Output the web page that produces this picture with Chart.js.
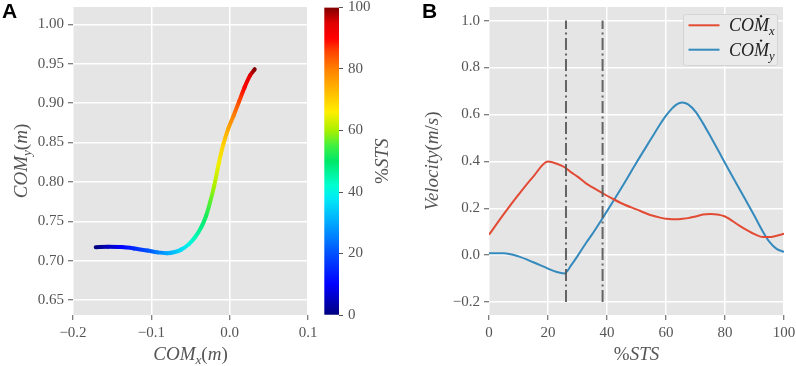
<!DOCTYPE html>
<html lang="en">
<head>
    <meta charset="UTF-8">
    <title>COM trajectory and velocity</title>
    <script src="https://cdn.jsdelivr.net/npm/chart.js"></script>
    <style>
        body {
            margin: 0;
            background-color: #ffffff;
        }
        .wrap {
            position: relative;
            width: 796px;
            height: 366px;
        }
        canvas {
            position: absolute;
            top: 0;
        }
    </style>
</head>
<body>
    <div class="wrap">
        <canvas id="chartA" width="320" height="366" style="left:0"></canvas>
        <canvas id="chartCb" width="80" height="366" style="left:320px"></canvas>
        <canvas id="chartB" width="396" height="366" style="left:400px"></canvas>
    </div>

    <script>
// ---- data: panel A (COM trajectory, coloured by %STS) ----
const comX    = [-0.171, -0.155, -0.138, -0.122, -0.105, -0.092, -0.080, -0.070, -0.062, -0.052, -0.044, -0.036,
                 -0.030, -0.025, -0.020, -0.014, -0.008, -0.002, 0.005, 0.012, 0.019, 0.026, 0.032];
const comY    = [0.717, 0.7175, 0.7172, 0.7155, 0.7128, 0.7105, 0.7095, 0.711, 0.714, 0.721, 0.730, 0.743,
                 0.757, 0.774, 0.794, 0.823, 0.848, 0.867, 0.884, 0.902, 0.920, 0.935, 0.943];
const trajPct = [0, 5, 10, 15, 20, 25, 30, 33, 36, 40, 44, 48, 52, 56, 60, 65, 70, 75, 80, 85, 90, 95, 100];

const xTicksA = [-0.2, -0.1, 0.0, 0.1];
const yTicksA = [0.65, 0.70, 0.75, 0.80, 0.85, 0.90, 0.95, 1.00];
const cbTicks = [0, 20, 40, 60, 80, 100];

// ---- data: panel B (COM velocity vs %STS) ----
const stsPct  = [0, 5, 10, 15, 20, 23, 25.5, 28, 30, 33, 35, 38.5, 42, 46, 50, 55, 58, 60, 62, 63.5, 65.5, 67.5, 70,
                 72.5, 75, 78, 80, 85, 90, 93, 95, 97.5, 100];
const velComX = [0.087, 0.175, 0.258, 0.335, 0.399, 0.39, 0.376, 0.352, 0.335, 0.305, 0.29, 0.264, 0.24, 0.215, 0.195,
                 0.170, 0.160, 0.155, 0.153, 0.153, 0.155, 0.158, 0.165, 0.173, 0.176, 0.172, 0.165, 0.125, 0.09, 0.077,
                 0.077, 0.083, 0.091];
const velComY = [0.0085, 0.0085, -0.005, -0.03, -0.057, -0.072, -0.078, -0.04, -0.004, 0.054, 0.09, 0.158, 0.228, 0.31,
                 0.395, 0.497, 0.558, 0.595, 0.625, 0.642, 0.651, 0.643, 0.612, 0.563, 0.508, 0.44, 0.393, 0.28, 0.167,
                 0.097, 0.058, 0.027, 0.014];
const eventPct = [26.1, 38.5];
const eventRange = [-0.2, 1.0];

const xTicksB = [0, 20, 40, 60, 80, 100];
const yTicksB = [-0.2, 0.0, 0.2, 0.4, 0.6, 0.8, 1.0];

// ---- styles ----
const SERIF = '"Liberation Serif", serif';
const cmapStops = [
    [0, [0, 0, 127]], [0.1, [0, 0, 255]], [0.2, [0, 80, 255]], [0.3, [0, 168, 255]],
    [0.38, [0, 235, 245]], [0.42, [0, 255, 210]], [0.5, [0, 232, 104]], [0.55, [64, 240, 64]],
    [0.6, [168, 240, 0]], [0.66, [255, 238, 0]], [0.72, [255, 192, 0]], [0.8, [255, 128, 0]],
    [0.86, [255, 64, 0]], [0.9, [255, 0, 0]], [0.95, [224, 0, 0]], [1, [128, 0, 0]]
];

function stsColor(t) {
    for (let i = 1; i < cmapStops.length; i++) {
        if (t <= cmapStops[i][0]) {
            const [t0, c0] = cmapStops[i - 1];
            const [t1, c1] = cmapStops[i];
            const f = (t - t0) / (t1 - t0);
            const c = c0.map((v, k) => Math.round(v + (c1[k] - v) * f));
            return `rgb(${c[0]},${c[1]},${c[2]})`;
        }
    }
    return 'rgb(128,0,0)';
}

function fmt(v, d) {
    return (v < 0 ? '\u2212' : '') + Math.abs(v).toFixed(d);
}

// draw a small piece of "math" text: [text, style, dot?] with style 'i', 'r' or 'sub'
function drawMath(ctx, parts, x, y, size, rot, align, color) {
    const fontFor = p => (p[1] === 'r' ? '' : 'italic ') + (p[1] === 'sub' ? size * 0.7 : size) + 'px ' + SERIF;
    const widths = parts.map(p => { ctx.font = fontFor(p); return ctx.measureText(p[0]).width; });
    const total = widths.reduce((a, b) => a + b, 0);
    ctx.save();
    ctx.translate(x, y);
    ctx.rotate(rot);
    ctx.fillStyle = color;
    ctx.textBaseline = 'alphabetic';
    ctx.textAlign = 'left';
    let cx = align === 'center' ? -total / 2 : 0;
    parts.forEach((p, i) => {
        ctx.font = fontFor(p);
        const dy = p[1] === 'sub' ? size * 0.22 : 0;
        ctx.fillText(p[0], cx, dy);
        if (p[2]) {
            ctx.beginPath();
            ctx.arc(cx + widths[i] * 0.47, -size * 0.84, size * 0.065, 0, Math.PI * 2);
            ctx.fill();
        }
        cx += widths[i];
    });
    ctx.restore();
}

const plotBg = {
    id: 'plotBg',
    beforeDraw(chart) {
        const a = chart.chartArea;
        chart.ctx.save();
        chart.ctx.fillStyle = '#E5E5E5';
        chart.ctx.fillRect(a.left, a.top, a.right - a.left, a.bottom - a.top);
        chart.ctx.restore();
    }
};

function panelLabel(ctx, text, x) {
    ctx.save();
    ctx.font = 'bold 21px "Liberation Sans", sans-serif';
    ctx.fillStyle = '#000';
    ctx.textBaseline = 'alphabetic';
    ctx.fillText(text, x, 18);
    ctx.restore();
}

function axisCommon(ticks, digits, fit) {
    return {
        type: 'linear',
        afterBuildTicks: s => { s.ticks = ticks.map(v => ({ value: v })); },
        afterFit: fit,
        border: { display: false },
        grid: { color: '#ffffff', lineWidth: 1.5, tickColor: '#555555', tickWidth: 1, tickLength: 5 },
        ticks: {
            color: '#555555',
            font: { family: SERIF, size: 15 },
            padding: 4,
            maxRotation: 0,
            autoSkip: false,
            callback: v => fmt(v, digits)
        }
    };
}

Chart.defaults.font.family = SERIF;

// ---- panel A ----
const trajPoints = comX.map((x, i) => ({ x: x, y: comY[i] }));

const yA = axisCommon(yTicksA, 2, s => { s.width = 73; s.paddingTop = 0; s.paddingBottom = 0; });
yA.min = 0.631; yA.max = 1.022;
const xA = axisCommon(xTicksA, 1, s => { s.height = 51; s.paddingLeft = 0; s.paddingRight = 0; });
xA.min = -0.2; xA.max = 0.1;

new Chart(document.getElementById('chartA'), {
    type: 'line',
    data: {
        datasets: [{
            data: trajPoints,
            borderColor: '#0000ff',
            borderWidth: 4,
            borderCapStyle: 'round',
            pointRadius: 0,
            cubicInterpolationMode: 'monotone',
            segment: {
                borderColor: c => {
                    const g = c.chart.ctx.createLinearGradient(c.p0.x, c.p0.y, c.p1.x, c.p1.y);
                    g.addColorStop(0, stsColor(trajPct[c.p0DataIndex] / 100));
                    g.addColorStop(1, stsColor(trajPct[c.p1DataIndex] / 100));
                    return g;
                }
            }
        }]
    },
    options: {
        responsive: false,
        animation: false,
        devicePixelRatio: 1,
        layout: { padding: { left: 0, top: 7, right: 12, bottom: 0 } },
        plugins: { legend: { display: false }, tooltip: { enabled: false } },
        scales: { x: xA, y: yA }
    },
    plugins: [plotBg, {
        id: 'titlesA',
        afterDraw(chart) {
            const ctx = chart.ctx;
            const a = chart.chartArea;
            drawMath(ctx, [['COM', 'i'], ['x', 'sub'], ['(', 'r'], ['m', 'i'], [')', 'r']],
                (a.left + a.right) / 2, 360, 19, 0, 'center', '#555555');
            drawMath(ctx, [['COM', 'i'], ['y', 'sub'], ['(', 'r'], ['m', 'i'], [')', 'r']],
                26.5, (a.top + a.bottom) / 2, 19, -Math.PI / 2, 'center', '#555555');
            panelLabel(ctx, 'A', 2);
        }
    }]
});

// ---- colour bar ----
new Chart(document.getElementById('chartCb'), {
    type: 'bar',
    data: {
        labels: [''],
        datasets: [{
            data: [cbTicks[cbTicks.length - 1]],
            barPercentage: 1,
            categoryPercentage: 1,
            backgroundColor: c => {
                const a = c.chart.chartArea;
                if (!a) return '#888';
                const g = c.chart.ctx.createLinearGradient(0, a.bottom, 0, a.top);
                cmapStops.forEach(s => g.addColorStop(s[0], stsColor(s[0])));
                return g;
            }
        }]
    },
    options: {
        responsive: false,
        animation: false,
        devicePixelRatio: 1,
        layout: { padding: { left: 4.3, top: 7.5, right: 0, bottom: 51 } },
        plugins: { legend: { display: false }, tooltip: { enabled: false } },
        scales: {
            x: { display: false },
            y: {
                position: 'right',
                min: 0,
                max: 100,
                afterBuildTicks: s => { s.ticks = cbTicks.map(v => ({ value: v })); },
                afterFit: s => { s.width = 80 - 19; s.paddingTop = 0; s.paddingBottom = 0; },
                border: { display: false },
                grid: { drawOnChartArea: false, tickColor: '#555555', tickLength: 4, tickWidth: 1 },
                ticks: { color: '#555555', font: { family: SERIF, size: 15 }, padding: 5 }
            }
        }
    },
    plugins: [{
        id: 'cbTitle',
        afterDraw(chart) {
            const a = chart.chartArea;
            drawMath(chart.ctx, [['%', 'r'], ['STS', 'i']], 68, (a.top + a.bottom) / 2, 19,
                -Math.PI / 2, 'center', '#555555');
        }
    }]
});

// ---- panel B ----
const yB = axisCommon(yTicksB, 1, s => { s.width = 89; s.paddingTop = 0; s.paddingBottom = 0; });
yB.min = -0.255; yB.max = 1.058;
const xB = axisCommon(xTicksB, 0, s => { s.height = 51; s.paddingLeft = 0; s.paddingRight = 0; });
xB.min = 0; xB.max = 100;

const eventSets = eventPct.map(p => ({
    data: eventRange.map(v => ({ x: p, y: v })),
    borderColor: 'rgba(85,85,85,0.9)',
    borderWidth: 2,
    borderDash: [12, 3.5, 2, 3.5],
    pointRadius: 0
}));

new Chart(document.getElementById('chartB'), {
    type: 'line',
    data: {
        datasets: eventSets.concat([
            {
                label: 'COMx',
                data: stsPct.map((p, i) => ({ x: p, y: velComX[i] })),
                borderColor: '#E24A33',
                borderWidth: 2,
                pointRadius: 0,
                cubicInterpolationMode: 'monotone'
            },
            {
                label: 'COMy',
                data: stsPct.map((p, i) => ({ x: p, y: velComY[i] })),
                borderColor: '#348ABD',
                borderWidth: 2,
                pointRadius: 0,
                cubicInterpolationMode: 'monotone'
            }
        ])
    },
    options: {
        responsive: false,
        animation: false,
        devicePixelRatio: 1,
        layout: { padding: { left: 0, top: 7, right: 12, bottom: 0 } },
        plugins: { legend: { display: false }, tooltip: { enabled: false } },
        scales: { x: xB, y: yB }
    },
    plugins: [plotBg, {
        id: 'legendTitlesB',
        afterDraw(chart) {
            const ctx = chart.ctx;
            const a = chart.chartArea;
            // legend box
            const bx = a.right - 7 - 94, by = a.top + 7;
            ctx.save();
            ctx.beginPath();
            ctx.roundRect(bx + 0.5, by + 0.5, 94, 51, 3);
            ctx.fillStyle = '#EAEAEA';
            ctx.fill();
            ctx.strokeStyle = '#D4D4D4';
            ctx.lineWidth = 1;
            ctx.stroke();
            const items = [['x', '#E24A33'], ['y', '#348ABD']];
            items.forEach((it, i) => {
                const ly = by + 11.3 + i * 24.4;
                ctx.beginPath();
                ctx.moveTo(bx + 5.5, ly);
                ctx.lineTo(bx + 36.5, ly);
                ctx.strokeStyle = it[1];
                ctx.lineWidth = 2;
                ctx.stroke();
                drawMath(ctx, [['CO', 'i'], ['M', 'i', true], [it[0], 'sub']], bx + 46, ly + 6, 18, 0, 'left', '#222222');
            });
            ctx.restore();
            drawMath(ctx, [['%', 'r'], ['STS', 'i']], (a.left + a.right) / 2, 359.5, 19, 0, 'center', '#555555');
            drawMath(ctx, [['Velocity', 'i'], ['(', 'r'], ['m', 'i'], ['/', 'r'], ['s', 'i'], [')', 'r']],
                38, (a.top + a.bottom) / 2, 19, -Math.PI / 2, 'center', '#555555');
            panelLabel(ctx, 'B', 22);
        }
    }]
});
    </script>
</body>
</html>
